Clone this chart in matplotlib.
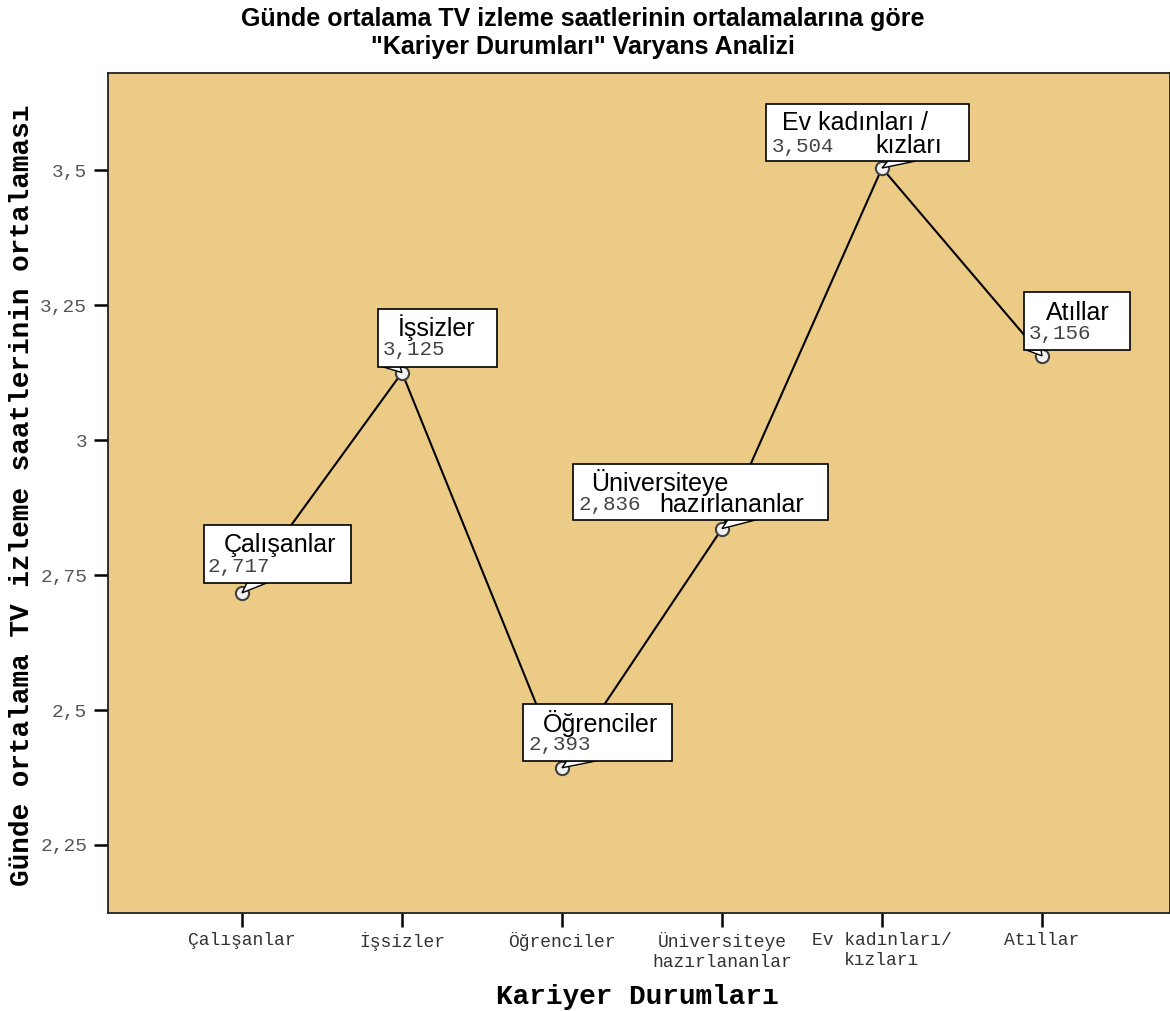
import numpy as np
import matplotlib.pyplot as plt
from matplotlib.patches import Rectangle, Polygon
from matplotlib.transforms import ScaledTranslation

# data
kategoriler = ["Çalışanlar", "İşsizler", "Öğrenciler",
               "Üniversiteye\nhazırlananlar", "Ev kadınları/\nkızları", "Atıllar"]
ortalamalar = [2.717, 3.125, 2.393, 2.836, 3.504, 3.156]
etiket_satirlari = [["Çalışanlar"], ["İşsizler"], ["Öğrenciler"],
                    ["Üniversiteye", "hazırlananlar"], ["Ev kadınları /", "kızları"], ["Atıllar"]]
y_ticks = [2.25, 2.5, 2.75, 3.0, 3.25, 3.5]
y_tick_labels = ["2,25", "2,5", "2,75", "3", "3,25", "3,5"]

# callout layout, pixels relative to the point (x right, y down)
# box (left, top, right, bottom), name line centres, value (left, y), wedge x range at box bottom
kutu = [(-38, -68, 109, -10), (-24, -64, 95, -6), (-39, -64, 110, -7),
        (-149, -65, 106, -9), (-116, -64, 87, -7), (-18, -64, 88, -6)]
isim_yer = [[(38, -48)], [(35, -45)], [(38, -44)],
            [(-62, -46), (10, -24)], [(-27, -45), (27, -22)], [(36, -43)]]
deger_yer = [(-34, -26), (-19, -23), (-34, -23), (-144, -24), (-110, -22), (-13, -22)]
kama = [(5, 25), (-20, -2), (5, 35), (6, 35), (6, 34), (-16, -1)]

bg = "#EBCB86"
mono = ["Liberation Mono", "DejaVu Sans Mono"]
sans = ["Liberation Sans", "DejaVu Sans"]

fig = plt.figure(figsize=(11.7, 10.11), dpi=100)
ax = fig.add_axes([108 / 1170, 1 - 913 / 1011, 1 - 108 / 1170, (913 - 73) / 1011])
ax.set_facecolor(bg)

x = np.arange(len(kategoriler))
ax.plot(x, ortalamalar, color="black", lw=1.5, zorder=2)
ax.plot(x, ortalamalar, "o", ms=9.5, mfc="#f2f2f2", mec="#404040", mew=1.5, zorder=3)

ax.set_xlim(-0.8375, 5.8)
ax.set_ylim(2.124, 3.68)
ax.set_xticks(x)
ax.set_xticklabels(kategoriler, family=mono, fontsize=13, color="#333333")
ax.set_yticks(y_ticks)
ax.set_yticklabels(y_tick_labels, family=mono, fontsize=14, color="#555555")
ax.tick_params(length=10, width=1.8, direction="out")
ax.tick_params(axis="x", pad=4)
ax.tick_params(axis="y", pad=5)
for s in ax.spines.values():
    s.set_linewidth(1.3)
    s.set_color("#222222")

for i, v in enumerate(ortalamalar):
    tr = fig.dpi_scale_trans + ScaledTranslation(x[i], v, ax.transData)
    l, t, r, b = kutu[i]
    w0, w1 = kama[i]
    ax.add_patch(Polygon([(0, 0), (w0 / 100, -b / 100), (w1 / 100, -b / 100)], closed=True,
                         transform=tr, fc="white", ec="black", lw=1, zorder=4, clip_on=False))
    ax.add_patch(Rectangle((l / 100, -b / 100), (r - l) / 100, (b - t) / 100,
                           transform=tr, fc="white", ec="black", lw=1.2, zorder=5, clip_on=False))
    for satir, (cx, cy) in zip(etiket_satirlari[i], isim_yer[i]):
        ax.text(cx / 100, -cy / 100, satir, transform=tr, ha="center", va="center",
                family=sans, fontsize=18, zorder=6)
    dx, dy = deger_yer[i]
    ax.text(dx / 100, -dy / 100, f"{v:.3f}".replace(".", ","), transform=tr,
            ha="left", va="center", family=mono, fontsize=15, color="#444444", zorder=6)

baslik = ["Liberation Sans Narrow", "Liberation Sans", "DejaVu Sans"]
fig.text(583 / 1170, 1 - 19 / 1011, "Günde ortalama TV izleme saatlerinin ortalamalarına göre",
         ha="center", va="center", family=baslik, fontsize=18, fontweight="bold")
fig.text(583 / 1170, 1 - 47 / 1011, "\"Kariyer Durumları\" Varyans Analizi",
         ha="center", va="center", family=baslik, fontsize=18, fontweight="bold")

fig.text(22 / 1170, 1 - 495 / 1011, "Günde ortalama TV izleme saatlerinin ortalaması",
         rotation=90, ha="center", va="center", family=mono, fontsize=20, fontweight="bold")
fig.text(637 / 1170, 1 - 997 / 1011, "Kariyer Durumları",
         ha="center", va="center", family=mono, fontsize=20, fontweight="bold")

fig.savefig("out.png", dpi=100, facecolor="white")
